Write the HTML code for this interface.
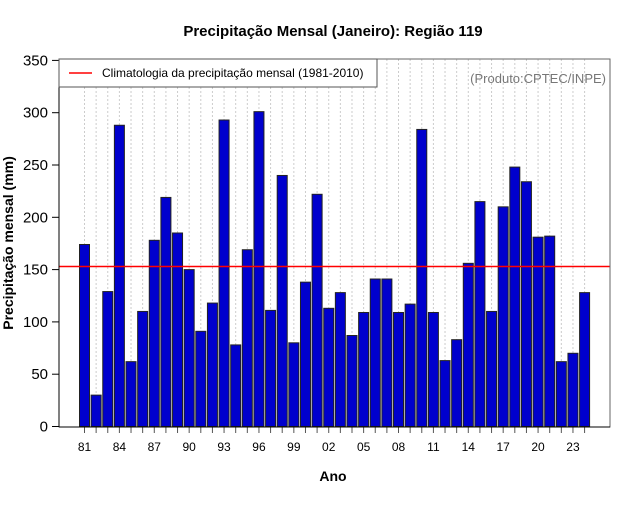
<!DOCTYPE html>
<html><head><meta charset="utf-8"><style>
body{margin:0;background:#fff;font-family:"Liberation Sans",sans-serif}
</style></head><body>
<svg id="c" width="640" height="500" xmlns="http://www.w3.org/2000/svg" font-family="Liberation Sans, sans-serif">
<rect width="640" height="500" fill="#fff"/>
<text x="333" y="36" text-anchor="middle" font-size="15" font-weight="bold">Precipitação Mensal (Janeiro): Região 119</text>
<text x="333" y="481" text-anchor="middle" font-size="14" font-weight="bold">Ano</text>
<text transform="translate(13,243) rotate(-90)" text-anchor="middle" font-size="14" font-weight="bold">Precipitação mensal (mm)</text>
<g id="grid"></g><g id="bars"></g><g id="axes"></g>
</svg>
<script>
const years=[81,82,83,84,85,86,87,88,89,90,91,92,93,94,95,96,97,98,99,0,1,2,3,4,5,6,7,8,9,10,11,12,13,14,15,16,17,18,19,20,21,22,23,24];
const values=[174,30,129,288,62,110,178,219,185,150,91,118,293,78,169,301,111,240,80,138,222,113,128,87,109,141,141,109,117,284,109,63,83,156,215,110,210,248,234,181,182,62,70,128];
const yTicks=[0,50,100,150,200,250,300,350];
const climatology=153;
const NS="http://www.w3.org/2000/svg";
const L=59,R=610,T=59,B=427;
const x=i=>84.5+i*11.63;
const y=v=>426.5-v*1.046;
function mk(t,a,p){const e=document.createElementNS(NS,t);for(const k in a)e.setAttribute(k,a[k]);p.appendChild(e);return e;}
const g=document.getElementById('grid'),b=document.getElementById('bars'),ax=document.getElementById('axes');
values.forEach((v,i)=>{
 const gl=mk('line',{x1:x(i),x2:x(i),y1:T,y2:B,stroke:'#ccc','stroke-dasharray':'2,2','stroke-width':1},g);
 
 
 const r=mk('rect',{x:x(i)-5,y:y(v),width:10,height:y(0)-y(v),fill:'#0000cd',stroke:'#222','stroke-width':1},b);
 
 
 const t=mk('line',{x1:x(i),x2:x(i),y1:B,y2:B+6,stroke:'#555'},ax);
 
 
 if(i%3===0){const tx=mk('text',{x:x(i),y:451,'text-anchor':'middle','font-size':12},ax);tx.textContent=String(years[i]).padStart(2,'0');
 
 }
});
yTicks.forEach(v=>{
 const t=mk('line',{x1:L-7,x2:L,y1:y(v),y2:y(v),stroke:'#000'},ax);
 
 
 const tx=mk('text',{x:L-11,y:y(v)+5,'text-anchor':'end','font-size':15},ax);tx.textContent=v;
 
 
});
const cl=mk('line',{x1:L,x2:R,y1:y(climatology),y2:y(climatology),stroke:'#f00','stroke-width':1.5},ax);


const box=mk('rect',{x:L,y:T,width:R-L,height:B-T,fill:'none',stroke:'#666'},ax);


const yl=mk('line',{x1:L,x2:L,y1:y(350),y2:B,stroke:'#000'},ax);


const xl=mk('line',{x1:L,x2:R,y1:B,y2:B,stroke:'#000'},ax);


const lg=mk('g',{},ax);


mk('rect',{x:L,y:T,width:318,height:28,fill:'#fff',stroke:'#555'},lg);
mk('line',{x1:69,x2:92,y1:73,y2:73,stroke:'#f00','stroke-width':1.5},lg);
const lt=mk('text',{x:102,y:77,'font-size':12},lg);lt.textContent='Climatologia da precipitação mensal (1981-2010)';


const src=mk('text',{x:606,y:83,'text-anchor':'end','font-size':13,fill:'#777'},ax);src.textContent='(Produto:CPTEC/INPE)';


</script>
</body></html>
